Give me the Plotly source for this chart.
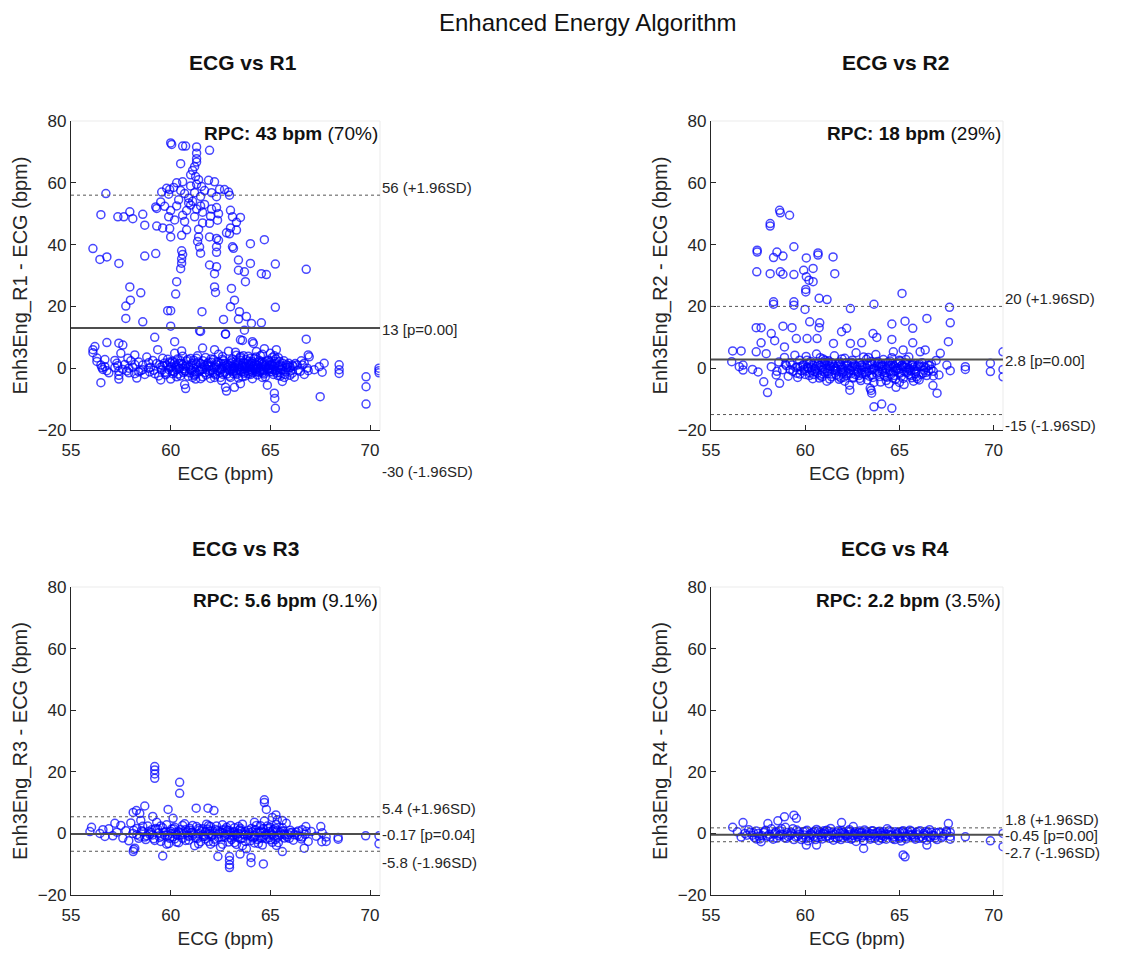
import plotly.graph_objects as go

# ---------------- data ----------------
panel_titles = ["ECG vs R1", "ECG vs R2", "ECG vs R3", "ECG vs R4"]
y_titles = ["Enh3Eng_R1 - ECG (bpm)", "Enh3Eng_R2 - ECG (bpm)",
            "Enh3Eng_R3 - ECG (bpm)", "Enh3Eng_R4 - ECG (bpm)"]
x_title = "ECG (bpm)"
main_title = "Enhanced Energy Algorithm"

mean_bias = [13, 2.8, -0.17, -0.45]
upper_loa = [56, 20, 5.4, 1.8]
lower_loa = [-30, -15, -5.8, -2.7]
p_values = ["0.00", "0.00", "0.04", "0.00"]
rpc_bpm = ["43", "18", "5.6", "2.2"]
rpc_pct = ["70%", "29%", "9.1%", "3.5%"]

x_ticks = [55, 60, 65, 70]
y_ticks = [-20, 0, 20, 40, 60, 80]

r1_outliers = [
    (60.0, 72.9), (60.05, 72.4), (60.6, 71.9), (60.75, 71.9), (61.3, 71.6), (61.3, 69.6), (61.3, 67.8),
    (61.95, 70.5), (60.5, 66.2), (61.3, 66.7), (61.2, 65.2), (61.1, 64.0), (61.0, 62.6), (61.25, 62.0),
    (61.4, 61.0), (61.3, 59.5), (61.0, 59.0), (60.6, 60.3), (60.3, 60.0), (60.15, 58.5), (59.95, 57.8),
    (59.8, 58.2), (59.55, 57.0), (59.9, 56.3), (60.5, 57.5), (60.7, 56.5), (60.9, 55.0), (61.1, 54.0),
    (61.5, 55.6), (61.7, 57.5), (61.9, 60.8), (62.2, 60.3), (62.45, 57.9), (62.3, 55.5), (62.05, 56.8),
    (62.9, 57.0), (62.95, 56.0), (62.7, 57.8), (61.55, 58.8), (61.5, 52.5), (61.3, 51.5), (61.0, 52.8),
    (60.8, 51.0), (60.3, 52.5), (60.0, 51.0), (59.9, 49.0), (59.25, 52.2), (59.3, 51.7), (59.7, 52.4),
    (60.6, 49.5), (60.2, 48.0), (61.2, 49.0), (61.6, 50.5), (62.05, 51.5), (62.3, 52.0), (62.4, 50.0),
    (62.35, 47.9), (61.95, 46.9), (62.0, 49.2), (63.0, 51.1), (63.1, 49.0), (63.5, 48.8), (63.0, 45.4),
    (63.3, 44.7), (61.4, 45.0), (61.4, 42.5), (61.35, 41.0), (61.45, 39.2), (61.5, 37.2), (61.95, 42.5),
    (62.3, 42.0), (62.4, 41.4), (62.3, 39.3), (62.3, 37.5), (62.95, 43.5), (63.1, 39.3), (63.15, 38.8),
    (60.7, 47.5), (60.8, 44.8), (60.55, 43.0), (60.0, 42.5), (59.95, 45.2), (59.6, 45.4), (59.3, 46.0),
    (58.7, 46.3), (58.1, 48.4), (57.95, 50.6), (57.65, 49.0), (57.35, 49.0), (56.5, 49.7), (56.75, 56.5),
    (56.1, 38.7), (56.45, 35.2), (56.8, 36.0), (57.4, 33.9), (58.7, 36.3), (59.25, 37.1), (60.55, 38.0),
    (60.6, 36.8), (60.55, 35.4), (60.55, 34.0), (60.5, 32.2), (60.3, 28.0), (60.25, 24.0), (57.95, 26.3),
    (57.98, 22.0), (57.75, 20.1), (57.75, 16.1), (58.6, 15.0), (58.5, 24.4), (59.85, 18.6), (60.0, 18.6),
    (60.0, 13.6), (61.57, 18.3), (61.45, 12.1), (62.2, 26.3), (62.25, 24.5), (62.2, 30.6), (62.3, 32.8),
    (61.95, 33.4), (63.05, 25.8), (63.2, 22.0), (63.0, 19.9), (62.65, 15.8), (62.75, 11.0), (63.45, 18.3),
    (63.8, 16.7), (63.4, 15.9), (64.05, 14.5), (64.55, 14.7), (63.7, 12.3), (63.75, 28.0), (63.4, 35.0),
    (64.0, 33.9), (63.4, 31.7), (63.7, 31.2), (64.55, 30.6), (64.8, 30.3), (65.25, 33.7), (65.25, 19.7),
    (64.7, 41.6), (64.0, 40.3), (66.8, 32.0), (63.3, 47.2), (62.8, 43.8), (61.6, 47.0), (60.9, 53.5),
    (61.7, 53.0), (61.2, 56.8), (60.4, 54.5), (59.5, 53.8), (58.6, 49.8),
    (56.2, 7.0), (56.8, 8.3), (57.4, 8.1), (57.6, 7.5), (59.2, 10.0), (60.2, 8.6), (61.5, 11.9),
    (62.75, 11.1), (63.5, 9.2), (63.6, 9.0), (64.1, 8.6), (64.15, 8.0), (66.8, 9.4), (66.9, 4.3),
]
r1_cluster = [
    (56.1, 6.0), (56.1, 5.0), (56.3, 3.3), (56.5, 1.0), (56.55, 0.2), (56.6, -0.4), (56.5, -4.7), (56.7, 0.5),
    (56.3, 2.2), (57.2, 2.5), (57.35, 0.8), (57.4, -1.0), (57.4, -2.3), (57.4, -3.5), (57.5, 4.8), (57.7, 1.2),
    (57.9, -1.5), (57.85, 3.2), (58.1, 0.3), (58.2, -1.8), (58.2, 4.3), (58.4, 2.0), (58.5, -0.8), (58.6, 1.0),
    (58.7, -2.0), (58.8, 3.6), (58.9, 0.0), (58.3, -3.2), (58.95, -1.2), (59.1, 2.5), (59.15, -0.7), (59.3, 1.5),
    (59.4, -2.5), (59.5, 0.3), (59.6, 3.2), (59.7, -1.3), (59.8, 1.0), (59.9, -0.4), (59.95, 2.0), (59.5, -3.8),
    (59.35, 6.0), (60.05, 0.5), (60.1, -1.8), (60.2, 1.8), (60.3, -0.5), (60.35, 3.0), (60.45, 0.0), (60.5, -2.5),
    (60.6, 1.2), (60.7, -0.9), (60.7, -5.3), (60.75, -6.6), (60.8, 2.3), (60.9, 0.4), (60.95, -1.5), (60.2, 4.8),
    (60.55, 5.6), (60.0, -3.5), (61.0, 1.0), (61.05, -0.8), (61.15, 2.6), (61.2, -2.0), (61.3, 0.2), (61.35, 4.0),
    (61.45, -1.0), (61.5, 1.5), (61.6, -2.8), (61.7, 0.6), (61.75, 3.5), (61.8, -0.3), (61.9, 2.0), (61.95, -1.7),
    (61.6, 6.5), (61.25, -3.5), (62.0, 0.8), (62.1, -0.6), (62.15, 2.8), (62.25, -2.2), (62.3, 1.1), (62.4, 4.5),
    (62.45, -0.2), (62.5, -3.0), (62.6, 0.6), (62.65, 2.4), (62.7, -1.3), (62.75, -6.2), (62.8, -7.4), (62.85, 0.2),
    (62.9, 5.5), (62.95, -2.6), (62.2, 6.0), (62.55, -4.0), (63.0, 1.5), (63.05, -0.5), (63.1, 3.0), (63.15, -1.8),
    (63.2, 0.3), (63.25, 5.2), (63.3, -0.9), (63.35, 1.8), (63.4, -3.2), (63.45, 0.0), (63.5, 2.6), (63.55, -1.2),
    (63.6, 0.9), (63.65, 4.0), (63.7, -0.2), (63.75, -2.5), (63.8, 1.4), (63.85, -0.8), (63.9, 2.2), (63.95, 0.4),
    (63.5, -5.0), (63.2, -6.2), (64.0, -0.3), (64.05, 1.6), (64.1, -1.5), (64.15, 0.7), (64.2, 3.2), (64.25, -0.6),
    (64.3, 1.2), (64.35, -2.2), (64.4, 0.1), (64.45, 2.5), (64.5, -1.0), (64.55, 0.6), (64.6, 4.5), (64.65, -0.4),
    (64.7, 1.8), (64.75, -2.8), (64.8, 0.3), (64.85, -5.5), (64.9, 2.6), (64.95, -1.2), (64.3, 5.4), (64.7, 6.3),
    (65.0, 0.8), (65.05, -0.3), (65.1, 3.5), (65.15, -2.0), (65.2, -8.1), (65.22, -9.8), (65.25, -13.0),
    (65.25, 1.4), (65.3, 6.0), (65.35, -0.7), (65.4, 0.2), (65.45, 2.2), (65.5, -1.5), (65.6, 0.6), (65.7, -3.0),
    (65.8, 1.1), (65.9, -0.5), (65.2, 4.0), (65.6, -4.3), (66.0, 0.3), (66.1, -1.6), (66.25, 1.5), (66.4, -0.6),
    (66.55, 2.4), (66.7, -2.0), (66.85, 0.0), (66.95, 3.7), (66.2, -2.9), (66.6, 1.0), (67.2, -0.5), (67.45, 0.5),
    (67.5, -9.2), (67.6, -1.3), (67.7, 1.6), (68.45, 1.1), (68.45, -0.5), (68.45, -1.7), (69.8, -2.8),
    (69.8, -6.0), (69.8, -11.6), (70.45, 0.0), (70.45, -0.8), (70.45, -1.5),
    (63.1, 0.6), (63.4, 1.1), (63.7, 0.5), (64.0, 1.0), (64.3, -0.2), (64.6, 1.3), (64.9, 0.0), (65.1, 1.0),
    (63.3, -1.6), (63.9, -1.9), (64.45, -1.4), (64.95, 0.9), (62.4, 1.8), (61.6, -0.4), (60.4, 1.4),
]
r1_core = [
    (59.6, 0.8), (59.75, -2.1), (59.85, 2.9), (60.0, 1.6), (60.12, -0.9), (60.25, 0.2), (60.38, -1.9), (60.5, 2.4),
    (60.62, -0.2), (60.78, 1.0), (60.88, -2.6), (61.0, 3.1), (61.12, 0.0), (61.22, -1.2), (61.38, 2.0), (61.52, -0.5),
    (61.65, 1.2), (61.78, -2.2), (61.9, 0.4), (62.02, 3.0), (62.12, -1.4), (62.28, 0.3), (62.38, -0.9), (62.52, 1.6),
    (62.62, -2.0), (62.78, 0.9), (62.88, -0.4), (63.02, 2.4), (63.12, -1.1), (63.22, 1.2), (63.36, -0.3), (63.48, 3.4),
    (63.58, 0.4), (63.68, -1.6), (63.78, 2.8), (63.88, 0.1), (63.98, -1.0), (64.08, 2.2), (64.18, -0.2), (64.28, 3.6),
    (64.38, 0.9), (64.48, -0.6), (64.58, 2.0), (64.68, -1.9), (64.78, 1.1), (64.88, -0.3), (64.98, 1.9), (65.08, -1.2),
    (65.18, 0.5), (65.28, 3.0), (65.38, -2.4), (65.48, 1.0), (65.58, -0.6), (65.68, 2.4), (65.78, -1.2), (65.88, 0.8),
    (65.98, -2.3), (66.1, 1.0), (63.3, 4.2), (63.9, 3.9), (64.5, 4.0), (65.0, 4.8), (64.1, -3.4), (63.6, -2.8),
    (62.6, 3.8), (62.0, -3.3), (61.1, -3.0), (60.6, 3.9), (59.2, -1.8), (58.9, 1.8), (58.4, -1.2), (57.9, 0.0),
    (57.6, -0.4), (57.3, 1.6), (56.9, -1.5), (56.7, 2.8), (63.15, 0.0), (63.45, -0.6), (63.75, 0.7), (64.05, -0.5),
    (64.35, 0.4), (64.65, -0.9), (64.95, -0.1), (65.25, -0.8), (62.85, 1.3), (62.55, -0.4), (61.85, 1.6),
    (61.3, -1.8), (60.75, -1.0),
]
r1_dense = [
    (59.55, -0.6), (59.7, 1.7), (59.82, -1.6), (59.98, 0.2), (60.08, 2.2), (60.18, -1.2), (60.28, 1.0), (60.42, -0.1),
    (60.52, 1.6), (60.66, -1.4), (60.72, 0.6), (60.85, 2.8), (60.98, -0.4), (61.08, 1.6), (61.18, -2.4), (61.28, 1.3),
    (61.42, -0.6), (61.55, 0.4), (61.62, 2.4), (61.72, -1.5), (61.82, 1.0), (61.98, -0.9), (62.05, 1.9), (62.18, 0.0),
    (62.22, -1.8), (62.35, 2.1), (62.48, -1.3), (62.58, 0.0), (62.68, 1.5), (62.82, -1.9), (62.92, 0.8), (62.98, -0.9),
    (63.08, 1.9), (63.18, -0.4), (63.28, 2.4), (63.32, -2.0), (63.42, 0.5), (63.52, -0.9), (63.62, 1.8), (63.72, -1.2),
    (63.82, 0.2), (63.92, 1.2), (64.02, -2.0), (64.12, 0.3), (64.22, 1.6), (64.32, -1.1), (64.42, 2.0), (64.52, 0.0),
    (64.62, -1.5), (64.72, 0.7), (64.82, 2.2), (64.92, -0.7), (65.02, 1.3), (65.12, -0.4), (65.22, 2.2), (65.32, -1.5),
    (65.42, 0.6), (65.52, -0.3), (65.62, 1.6), (65.72, -2.0), (65.82, 0.2), (65.92, 1.6), (66.02, -0.9), (66.15, 0.6),
    (66.35, 1.0), (66.5, -1.0), (66.7, 1.6), (66.9, -0.8), (59.0, 0.3), (58.6, -0.5), (58.2, 1.2), (57.8, -0.9),
    (57.2, 0.2), (56.8, -0.8), (58.0, 2.4), (59.45, 1.1), (63.0, -3.0), (64.6, -3.0), (65.5, -2.6), (62.2, -3.0),
    (60.3, -2.8), (61.5, -3.4), (63.5, 3.8), (64.0, 3.2), (65.4, 3.4), (62.6, 2.9), (61.3, 3.2),
]

r2_outliers = [
    (58.64, 51.1), (58.68, 50.3), (59.17, 49.5), (58.14, 46.8), (58.14, 46.0), (57.45, 38.2), (57.45, 37.6),
    (58.5, 37.6), (58.32, 35.8), (58.82, 36.3), (59.4, 39.3), (60.68, 37.3), (60.68, 36.6), (61.48, 36.0),
    (60.06, 35.7), (57.43, 31.2), (58.14, 30.6), (58.68, 31.2), (58.82, 30.4), (59.4, 30.3), (59.92, 31.7),
    (60.42, 32.3), (61.57, 30.6), (60.06, 29.6), (60.2, 28.5), (60.42, 28.0), (60.03, 25.5), (60.03, 24.7),
    (60.74, 22.6), (61.16, 22.2), (58.32, 21.5), (58.32, 20.7), (59.4, 21.5), (59.4, 20.4), (59.99, 19.0),
    (62.4, 19.3), (63.65, 20.7), (65.14, 24.2), (67.66, 19.7), (67.7, 14.7), (66.46, 16.1), (65.3, 15.2),
    (65.71, 12.9), (64.6, 14.3), (63.6, 11.2), (63.8, 9.96), (64.6, 9.3), (65.71, 8.2), (67.6, 8.6),
    (62.2, 12.9), (61.93, 11.8), (60.24, 15.0), (60.77, 14.7), (60.74, 13.1), (57.4, 13.1), (57.66, 13.1),
    (58.82, 13.6), (59.3, 13.1), (58.2, 11.2), (58.38, 8.9), (57.66, 8.2), (59.53, 9.6), (60.1, 9.6),
    (60.63, 9.6), (58.9, 6.9), (61.5, 8.0), (62.4, 8.0), (63.0, 8.2), (57.4, 5.3), (56.15, 5.6), (56.6, 5.6),
    (56.1, 2.1), (56.7, 1.0), (56.5, 0.5), (56.7, -0.6), (57.2, -0.4), (57.5, -1.2), (57.8, -4.4),
    (58.0, -7.9), (58.64, -4.9), (58.46, -2.2), (57.93, 4.7), (63.65, -12.5), (64.06, -11.6), (64.6, -13.0),
    (63.53, -8.1), (63.5, -7.2), (62.37, -7.1), (64.82, -6.2), (66.78, -5.6), (67.0, -8.1), (66.8, -2.5),
    (67.7, -0.8), (68.5, 0.5), (68.5, -0.4), (69.83, 1.6), (69.83, -1.1), (70.5, 5.3), (70.5, -0.4),
    (70.5, -2.8), (67.52, 1.0), (67.17, 4.8), (66.1, 5.3), (66.37, 5.9), (65.2, 5.9), (64.68, 5.3), (65.71, 1.3),
]
r2_cluster = [
    (58.6, 2.0), (58.8, -0.5), (58.9, 3.5), (59.0, 0.8), (59.1, -2.6), (59.2, 1.8), (59.35, -1.0), (59.45, 4.2),
    (59.5, 0.2), (59.6, -3.0), (59.7, 2.6), (59.8, -0.8), (59.9, 1.2), (60.0, -2.0), (60.05, 3.8), (60.15, 0.0),
    (60.25, -1.5), (60.3, 2.2), (60.4, -3.4), (60.45, 0.9), (60.55, -0.4), (60.6, 4.6), (60.7, 1.6), (60.8, -2.3),
    (60.85, 0.3), (60.95, 3.0), (61.0, -1.2), (61.1, 1.0), (61.15, -4.2), (61.25, 2.4), (61.3, -0.2), (61.4, -2.8),
    (61.45, 1.4), (61.55, 4.0), (61.6, -0.9), (61.7, 0.6), (61.8, -3.6), (61.85, 2.0), (61.95, -1.6), (62.0, 0.2),
    (62.1, 3.2), (62.2, -2.4), (62.25, 1.2), (62.35, -5.5), (62.4, -0.6), (62.5, 2.6), (62.55, -3.2), (62.65, 0.8),
    (62.7, 5.0), (62.8, -1.3), (62.9, 1.8), (62.95, -4.0), (63.05, 0.4), (63.1, 3.6), (63.2, -2.0), (63.3, 1.0),
    (63.35, -0.8), (63.45, -6.5), (63.5, 2.2), (63.6, -3.0), (63.65, 0.0), (63.75, 4.4), (63.8, -1.6), (63.9, 1.6),
    (64.0, -4.5), (64.05, 0.6), (64.15, 2.8), (64.2, -2.2), (64.3, -0.2), (64.4, 1.9), (64.45, -5.0), (64.55, 0.9),
    (64.6, 3.4), (64.7, -1.2), (64.8, -3.5), (64.85, 1.4), (64.95, -0.5), (65.05, 2.3), (65.1, -2.6), (65.2, 0.4),
    (65.25, -5.3), (65.3, 1.7), (65.4, -1.4), (65.5, 3.6), (65.55, -0.2), (65.65, -3.1), (65.7, 1.0), (65.85, -1.8),
    (65.95, 0.6), (66.05, -3.8), (66.2, 1.8), (66.3, -0.7), (66.45, -2.4), (66.6, 0.9), (66.8, -1.0), (66.95, 2.5),
    (67.1, -2.2), (60.2, 1.5), (60.9, -1.8), (61.35, 0.5), (61.9, 1.1), (62.45, 0.3), (63.0, -0.6), (63.55, 1.3),
    (64.1, -1.1), (64.65, 0.2), (65.15, 1.1), (65.6, -0.9), (66.1, 0.5), (60.5, -1.0), (61.05, 2.5), (62.15, -1.0),
    (63.25, 2.9), (64.35, -2.9), (65.45, 0.0),
]
r2_core = [
    (59.3, 1.0), (59.55, -1.6), (59.75, 0.5), (59.95, -0.3), (60.1, 2.6), (60.35, -0.7), (60.6, 0.6), (60.75, -3.2),
    (60.9, 1.9), (61.05, -0.2), (61.2, -1.7), (61.4, 1.8), (61.5, -0.6), (61.65, -2.2), (61.75, 1.3), (61.9, -0.4),
    (62.05, -2.9), (62.2, 0.7), (62.3, -1.6), (62.45, 1.9), (62.6, -0.9), (62.75, 0.5), (62.85, -2.4), (63.0, 1.0),
    (63.15, -1.2), (63.25, 0.0), (63.4, -2.6), (63.55, -0.4), (63.7, 1.8), (63.85, -0.9), (63.95, -2.7), (64.1, 0.9),
    (64.25, -1.5), (64.4, 0.4), (64.55, -2.0), (64.7, 0.7), (64.8, -0.8), (64.95, 1.6), (65.05, -1.6), (65.2, -3.3),
    (65.35, 0.3), (65.5, -2.0), (65.65, 0.9), (65.8, -0.5), (65.9, -2.8), (66.05, 1.4), (66.25, -1.6), (66.4, 0.2),
    (66.55, -0.9), (66.7, 1.4), (60.45, -2.0), (61.3, -3.5), (62.1, -4.2), (62.9, -3.3), (63.65, -4.6), (64.3, -4.0),
    (65.0, -4.6), (65.75, -4.2), (60.8, 3.4), (61.95, 3.0), (63.35, 3.5), (64.5, 2.3), (65.35, 2.8), (62.6, 1.3),
    (63.9, 0.4), (64.85, -0.2), (61.6, 0.0), (60.3, 0.2),
]
r2_dense = [
    (59.6, 0.4), (59.72, -1.9), (59.88, 0.9), (60.0, -0.9), (60.12, 0.4), (60.22, -2.4), (60.38, 1.2), (60.52, -0.1),
    (60.65, -1.6), (60.78, 0.9), (60.92, -0.6), (61.02, 1.6), (61.18, -1.0), (61.28, 0.8), (61.42, -1.9), (61.52, 0.6),
    (61.68, -0.6), (61.78, -2.6), (61.92, 0.4), (62.02, -1.2), (62.18, 1.8), (62.28, -0.2), (62.42, -1.8), (62.52, 0.6),
    (62.68, -2.1), (62.78, -0.3), (62.92, 0.8), (63.02, -1.8), (63.12, 0.2), (63.28, -1.2), (63.42, 1.0), (63.52, -2.2),
    (63.62, -0.4), (63.78, 0.7), (63.92, -1.3), (64.02, 1.4), (64.12, -0.4), (64.22, -2.6), (64.38, 0.8), (64.48, -1.0),
    (64.62, 1.5), (64.72, -2.4), (64.88, 0.1), (64.98, -1.6), (65.12, 0.8), (65.28, -1.1), (65.42, 1.1), (65.52, -0.6),
    (65.62, -2.4), (65.78, 0.4), (65.88, -1.1), (66.0, 1.0), (66.15, -2.0), (66.28, 0.6), (66.4, -1.4), (66.52, 1.0),
    (66.68, -0.3), (59.2, -0.5), (58.95, 1.3), (58.5, -1.0), (58.2, 0.5), (63.3, -3.8), (64.65, -3.2), (61.9, -3.2),
    (60.9, -2.8), (65.95, -3.4), (62.55, -2.9), (63.85, 2.2), (65.0, 2.6), (61.2, 2.0),
]

r3_outliers = [
    (59.2, 21.7), (59.2, 20.6), (59.2, 19.3), (59.2, 17.9), (60.45, 16.6), (60.45, 13.0), (64.7, 10.9),
    (64.7, 10.0), (64.8, 7.8), (61.28, 8.2), (61.87, 8.2), (62.17, 7.4), (59.87, 7.8), (60.12, 4.9),
    (58.7, 8.9), (58.12, 6.8), (58.28, 7.4), (58.45, 6.5), (59.1, 5.5), (58.12, -5.9), (58.15, -5.2),
    (59.6, -7.3), (62.37, -7.5), (62.95, -7.5), (62.95, -8.8), (62.95, -10.2), (62.95, -11.1), (63.48, -6.7),
    (64.03, -7.8), (64.03, -9.5), (64.65, -9.9), (65.6, -5.9), (65.28, 6.0), (65.1, 5.2), (65.35, 4.4),
    (65.6, 4.2), (66.78, 2.2), (67.53, 2.2), (67.58, -2.7), (66.7, -4.8), (68.4, -1.9), (68.4, -1.3),
    (69.78, -0.8), (70.45, -0.8), (70.45, -3.4), (56.03, 2.0), (55.95, 0.6), (56.45, 0.0), (56.7, -1.0),
    (57.2, 3.3), (56.6, 1.2),
]
r3_cluster = [
    (56.9, 1.5), (57.1, -0.8), (57.3, 0.4), (57.5, 2.6), (57.6, -1.5), (57.75, 0.9), (57.9, -2.4), (58.0, 3.4),
    (58.1, 0.0), (58.2, -4.8), (58.3, 1.6), (58.45, -0.9), (58.5, 4.2), (58.6, 0.5), (58.75, -2.0), (58.85, 2.4),
    (58.95, -0.3), (59.05, 1.2), (59.15, -1.7), (59.3, 3.6), (59.4, 0.2), (59.5, -2.6), (59.6, 1.8), (59.7, -0.6),
    (59.8, 2.8), (59.9, -3.3), (60.0, 0.7), (60.1, -1.2), (60.2, 2.0), (60.3, -0.2), (60.4, -3.0), (60.5, 1.3),
    (60.6, -1.6), (60.7, 3.1), (60.8, 0.3), (60.9, -2.2), (61.0, 1.0), (61.1, -0.8), (61.2, -4.0), (61.3, 2.2),
    (61.4, 0.0), (61.5, -2.7), (61.6, 1.5), (61.7, -1.0), (61.8, 3.0), (61.9, -0.4), (62.0, -3.5), (62.1, 0.8),
    (62.2, -1.9), (62.3, 2.4), (62.4, -0.2), (62.5, -4.4), (62.6, 1.1), (62.7, -1.3), (62.8, 2.0), (62.9, -2.8),
    (63.0, 0.4), (63.1, -0.9), (63.2, 1.8), (63.3, -3.6), (63.4, 0.0), (63.5, -1.8), (63.6, 3.0), (63.7, -0.5),
    (63.8, -5.0), (63.9, 1.0), (64.0, -2.4), (64.1, 0.5), (64.2, -1.2), (64.3, 2.6), (64.4, -3.3), (64.5, 0.2),
    (64.6, -1.6), (64.7, 4.0), (64.8, -0.6), (64.9, 1.6), (65.0, -2.1), (65.1, 0.7), (65.2, -0.9), (65.3, 2.9),
    (65.4, -3.0), (65.5, 0.3), (65.6, 1.8), (65.7, -1.5), (65.8, 3.3), (65.9, -0.4), (66.0, 1.0), (66.15, -2.2),
    (66.3, 0.4), (66.45, -1.0), (66.6, 1.2), (66.75, -0.3), (66.9, -2.6), (67.05, 0.6), (67.3, -0.9), (67.6, 0.2),
    (67.8, -1.2), (67.8, -2.6), (60.25, 0.4), (60.85, -0.6), (61.45, 1.0), (62.05, -0.9), (62.65, 0.1),
    (63.25, -0.3), (63.85, -0.8), (64.45, 0.6), (65.05, -0.1), (61.75, 0.5), (62.95, 0.9), (64.15, -1.5),
    (63.55, 0.8), (64.75, -0.4), (65.35, 0.9),
]
r3_core = [
    (58.15, 1.0), (58.4, -1.6), (58.6, 2.3), (58.8, -0.8), (59.0, 0.4), (59.2, -2.3), (59.35, 1.4), (59.55, -0.9),
    (59.75, 0.6), (59.95, -1.6), (60.15, 1.5), (60.35, -0.7), (60.55, 0.2), (60.75, -2.3), (60.95, 1.7), (61.15, -0.2),
    (61.35, -1.6), (61.55, 0.6), (61.65, -1.0), (61.85, 1.4), (62.0, 0.0), (62.15, -2.8), (62.35, 0.9), (62.55, -1.2),
    (62.75, 1.4), (62.85, -0.4), (63.05, -2.0), (63.2, 0.6), (63.35, -1.3), (63.5, 1.6), (63.65, -0.2), (63.75, -2.6),
    (63.95, 0.3), (64.05, -1.0), (64.25, 1.2), (64.35, -2.0), (64.55, 0.8), (64.65, -0.9), (64.85, 2.4), (64.95, -1.4),
    (65.15, 1.2), (65.25, -2.0), (65.45, -0.6), (65.65, 0.8), (65.75, -0.6), (65.95, -1.6), (66.1, 0.4), (66.35, -0.6),
    (66.55, -1.8), (66.8, 0.6), (60.6, 2.6), (61.9, 2.5), (62.6, 2.8), (63.4, 2.2), (64.2, 3.6), (65.0, 2.0),
    (59.8, -3.5), (61.4, -3.4), (62.6, -3.5), (63.6, -4.0), (64.6, -3.8), (65.3, -3.9), (60.05, 0.0), (61.05, 0.3),
    (62.45, 0.5), (63.15, -0.5), (64.65, 0.4), (65.55, -0.2),
]
r3_dense = [
    (58.3, -0.4), (58.55, 0.9), (58.7, -1.2), (58.9, 0.6), (59.1, -0.5), (59.25, 1.6), (59.45, -1.3), (59.65, 0.3),
    (59.85, -0.6), (60.05, 1.4), (60.2, -1.8), (60.4, 0.5), (60.6, -0.4), (60.75, 1.2), (60.9, -1.0), (61.05, 0.4),
    (61.25, -1.4), (61.4, 1.6), (61.6, -0.4), (61.75, -1.8), (61.95, 0.8), (62.1, -0.5), (62.25, 1.3), (62.4, -1.4),
    (62.55, 0.3), (62.7, -0.6), (62.85, 1.0), (63.0, -1.4), (63.15, 0.2), (63.3, -0.6), (63.45, 1.1), (63.6, -1.5),
    (63.75, 0.5), (63.9, -0.3), (64.05, 1.6), (64.2, -0.6), (64.35, 0.4), (64.5, -1.4), (64.65, 1.5), (64.8, -1.8),
    (64.95, 0.6), (65.1, -0.5), (65.25, 1.6), (65.4, -1.2), (65.55, 0.8), (65.7, -0.2), (65.85, -1.2), (66.0, 0.2),
    (66.2, -0.4), (66.4, 0.8), (66.6, -1.2), (59.5, 2.4), (61.1, 2.6), (62.0, 2.2), (63.0, 2.6), (64.5, 2.5),
    (60.3, -2.8), (61.9, -2.6), (63.2, -3.0), (64.2, -3.1), (65.1, -2.9),
]

r4_outliers = [
    (58.9, 5.4), (59.4, 5.9), (59.53, 4.9), (58.55, 4.1), (58.02, 3.2), (56.7, 3.5), (56.15, 2.0), (67.6, 3.2),
    (61.93, 3.5), (62.55, 2.2), (65.2, -7.0), (65.3, -7.6), (68.5, -1.1), (69.83, -2.4), (70.5, 0.0),
    (70.5, -4.3), (67.7, -1.9), (67.5, 0.4), (57.66, -2.7), (57.4, -1.8), (66.46, -3.8), (63.1, -4.9),
    (60.06, -3.8), (60.6, -3.8),
]
r4_cluster = [
    (56.4, 0.5), (56.6, -1.2), (56.8, 0.0), (57.0, 1.2), (57.2, -0.6), (57.4, 0.8), (57.6, -1.8), (57.8, 0.3),
    (58.0, -0.9), (58.2, 1.5), (58.35, -0.2), (58.5, -1.5), (58.65, 0.9), (58.8, -0.5), (58.95, 2.0), (59.1, -1.0),
    (59.25, 0.4), (59.4, -2.0), (59.55, 1.1), (59.7, -0.3), (59.85, -1.4), (60.0, 0.7), (60.15, -2.4), (60.3, 0.0),
    (60.45, -1.0), (60.6, 1.3), (60.75, -0.4), (60.9, -1.8), (61.05, 0.5), (61.2, -0.8), (61.35, 1.6), (61.5, -2.2),
    (61.65, 0.2), (61.8, -1.1), (61.95, 0.9), (62.1, -0.2), (62.25, -1.6), (62.4, 0.6), (62.55, -0.7), (62.7, -2.6),
    (62.85, 0.3), (63.0, -1.3), (63.15, 1.1), (63.3, -0.3), (63.45, -1.9), (63.6, 0.8), (63.75, -0.9), (63.9, -2.3),
    (64.05, 0.1), (64.2, -1.0), (64.35, 1.5), (64.5, -0.5), (64.65, -1.7), (64.8, 0.5), (64.95, -0.8), (65.1, -2.5),
    (65.25, 0.2), (65.4, -1.2), (65.55, 1.0), (65.7, -0.4), (65.85, -1.9), (66.0, 0.6), (66.15, -1.0), (66.3, 0.0),
    (66.45, -2.2), (66.6, 1.2), (66.75, -0.6), (66.9, -1.5), (67.1, 0.4), (67.3, -0.9), (67.5, 0.8), (67.7, -1.0),
    (67.7, 0.3), (60.2, -0.6), (60.8, 0.3), (61.4, -0.5), (62.0, -1.4), (62.6, 0.1), (63.2, -0.6), (63.8, 0.2),
    (64.4, -0.3), (65.0, 0.4), (65.6, -0.7), (62.3, -0.4), (63.5, -0.1), (64.1, -0.7),
]
r4_core = [
    (56.9, -0.6), (57.1, 0.4), (57.3, -1.3), (57.5, 0.0), (57.7, -0.8), (57.9, 1.0), (58.1, -0.3), (58.3, -1.9),
    (58.45, 0.6), (58.6, -0.8), (58.75, 1.5), (58.9, -1.4), (59.05, 0.3), (59.2, -0.6), (59.35, 1.5), (59.5, -1.2),
    (59.65, 0.5), (59.8, -2.0), (59.95, -0.5), (60.1, 1.0), (60.25, -1.3), (60.4, 0.4), (60.55, -2.0), (60.7, 0.8),
    (60.85, -1.1), (61.0, -0.2), (61.15, 1.0), (61.3, -1.6), (61.45, 0.3), (61.6, -1.3), (61.75, 0.9), (61.9, -2.0),
    (62.05, 0.2), (62.2, -0.9), (62.35, 1.2), (62.5, -1.5), (62.65, 0.5), (62.8, -1.1), (62.95, 0.2), (63.1, -2.4),
    (63.25, 0.6), (63.4, -0.8), (63.55, 0.9), (63.7, -1.6), (63.85, 0.5), (64.0, -1.4), (64.15, 0.5), (64.3, -1.9),
    (64.45, 0.9), (64.6, -0.6), (64.75, -2.0), (64.9, 0.2), (65.05, -1.1), (65.2, 0.9), (65.35, -1.8), (65.5, -0.3),
    (65.65, 0.7), (65.8, -1.4), (65.95, -0.4), (66.1, 0.9), (66.25, -1.6), (66.4, 0.6), (66.55, -0.9), (66.7, 0.4),
    (66.85, -0.8), (67.0, -2.0), (67.2, 0.2),
]
r4_dense = [
    (57.25, 0.2), (57.55, -0.9), (57.85, 0.6), (58.15, -1.2), (58.4, 0.2), (58.7, -0.3), (59.0, -1.6), (59.3, -0.1),
    (59.6, -0.9), (59.9, 0.5), (60.05, -1.6), (60.35, -0.5), (60.5, 0.7), (60.65, -1.4), (60.95, 0.1), (61.1, -1.2),
    (61.25, 0.6), (61.55, -0.3), (61.7, -1.6), (61.85, 0.1), (62.15, -0.6), (62.3, 0.7), (62.45, -1.9), (62.75, -0.4),
    (62.9, 0.8), (63.05, -0.8), (63.35, 0.3), (63.5, -1.4), (63.65, -0.2), (63.95, 0.7), (64.1, -1.7), (64.25, -0.2),
    (64.55, 0.5), (64.7, -1.1), (64.85, -0.3), (65.15, 0.6), (65.3, -0.9), (65.45, 0.5), (65.75, -1.0), (65.9, 0.3),
    (66.05, -1.6), (66.35, -0.6), (66.5, 0.4), (66.65, -1.3), (66.95, 0.2), (67.25, -1.4), (67.4, -0.2), (62.0, 0.4),
    (63.0, 0.4), (64.0, -0.5), (61.0, 0.9), (65.0, -1.6),
]

panel_points = [r1_outliers + r1_cluster + r1_core + r1_dense,
                r2_outliers + r2_cluster + r2_core + r2_dense,
                r3_outliers + r3_cluster + r3_core + r3_dense,
                r4_outliers + r4_cluster + r4_core + r4_dense]

# ---------------- layout (pixel boxes of each axes, in window pixels) ----------------
WIN_W, WIN_H = 1136, 953
OFF = 8                      # default page body margin
W, H = WIN_W - OFF, WIN_H - OFF
X_RANGE = [55, 70.5]
Y_RANGE = [-20, 80]
boxes = [(71, 380, 121, 430), (711, 1003, 121, 430),
         (71, 380, 587, 895), (711, 1003, 587, 895)]
title_pos = [(243, 62), (895, 62), (245, 548), (895, 548)]

FONT = "Liberation Sans, Arial, Helvetica, sans-serif"
TXT = "#262626"
MARK = "rgba(0,0,255,0.72)"


def px(p):
    return (p - OFF) / W


def py(p):
    return 1 - (p - OFF) / H


fig = go.Figure()
annotations = []
shapes = []

for i in range(4):
    x0, x1, y0, y1 = boxes[i]
    sfx = "" if i == 0 else str(i + 1)
    xa, ya = "x" + sfx, "y" + sfx
    pts = panel_points[i]
    fig.add_trace(go.Scatter(
        x=[p[0] for p in pts], y=[p[1] for p in pts], mode="markers",
        xaxis=xa, yaxis=ya, showlegend=False, hoverinfo="x+y",
        marker=dict(symbol="circle-open", size=8, color=MARK, line=dict(width=1.5, color=MARK)),
    ))
    axis_common = dict(showgrid=False, zeroline=False, showline=True, linecolor=TXT, linewidth=1.2,
                       ticks="inside", ticklen=5, tickwidth=1, tickcolor=TXT, automargin=False,
                       tickfont=dict(family=FONT, size=17, color=TXT))
    fig.layout["xaxis" + sfx] = dict(axis_common, domain=[px(x0), px(x1)], range=X_RANGE,
                                     tickvals=x_ticks, anchor=ya, ticklabelstandoff=4,
                                     title=dict(text=x_title, font=dict(family=FONT, size=19, color=TXT), standoff=8))
    fig.layout["yaxis" + sfx] = dict(axis_common, domain=[py(y1), py(y0)], range=Y_RANGE,
                                     tickvals=y_ticks, anchor=xa,
                                     title=dict(text=y_titles[i], font=dict(family=FONT, size=20, color=TXT), standoff=4))

    # faint box on top / right
    shapes.append(dict(type="line", xref=xa + " domain", yref=ya + " domain", x0=0, x1=1, y0=1, y1=1,
                       line=dict(color="#ebebeb", width=1)))
    shapes.append(dict(type="line", xref=xa + " domain", yref=ya + " domain", x0=1, x1=1, y0=0, y1=1,
                       line=dict(color="#ebebeb", width=1)))
    # bias and limits of agreement
    shapes.append(dict(type="line", xref=xa + " domain", yref=ya, x0=0, x1=1,
                       y0=mean_bias[i], y1=mean_bias[i], line=dict(color="#4d4d4d", width=2)))
    for v in (upper_loa[i], lower_loa[i]):
        if Y_RANGE[0] <= v <= Y_RANGE[1]:
            shapes.append(dict(type="line", xref=xa + " domain", yref=ya, x0=0, x1=1, y0=v, y1=v,
                               line=dict(color="#555555", width=1, dash="dot")))

    def yfrac(v):
        f = (v - Y_RANGE[0]) / (Y_RANGE[1] - Y_RANGE[0])
        return py(y1) + f * (py(y0) - py(y1))

    lab_font = dict(family=FONT, size=15, color=TXT)
    annotations.append(dict(xref="paper", yref="paper", x=px(x1), y=yfrac(upper_loa[i]),
                            xanchor="left", yanchor="middle", yshift=8, showarrow=False,
                            text="{:.2g} (+1.96SD)".format(upper_loa[i]), font=lab_font))
    annotations.append(dict(xref="paper", yref="paper", x=px(x1), y=yfrac(mean_bias[i]),
                            xanchor="left", yanchor="middle", yshift=-1, showarrow=False,
                            text="{:.2g} [p={}]".format(mean_bias[i], p_values[i]), font=lab_font))
    annotations.append(dict(xref="paper", yref="paper", x=px(x1), y=yfrac(lower_loa[i]),
                            xanchor="left", yanchor="middle", yshift=-11, showarrow=False,
                            text="{:.2g} (-1.96SD)".format(lower_loa[i]), font=lab_font))
    # RPC
    annotations.append(dict(xref="paper", yref="paper", x=px(x1), y=py(y0 + 13),
                            xanchor="right", yanchor="middle", showarrow=False,
                            text="<b>RPC: {} bpm</b> ({})".format(rpc_bpm[i], rpc_pct[i]),
                            font=dict(family=FONT, size=19, color="#111111")))
    # panel title
    tx, ty = title_pos[i]
    annotations.append(dict(xref="paper", yref="paper", x=px(tx), y=py(ty), xanchor="center",
                            yanchor="middle", showarrow=False, text="<b>" + panel_titles[i] + "</b>",
                            font=dict(family=FONT, size=21, color="#111111")))

annotations.append(dict(xref="paper", yref="paper", x=px(588), y=1.0, xanchor="center", yanchor="top",
                        borderpad=0, showarrow=False, text=main_title,
                        font=dict(family=FONT, size=24, color="#111111")))

fig.update_layout(width=W, height=H, margin=dict(l=0, r=0, t=0, b=0),
                  plot_bgcolor="white", paper_bgcolor="white",
                  annotations=annotations, shapes=shapes, showlegend=False)

fig.write_html("out.html")
